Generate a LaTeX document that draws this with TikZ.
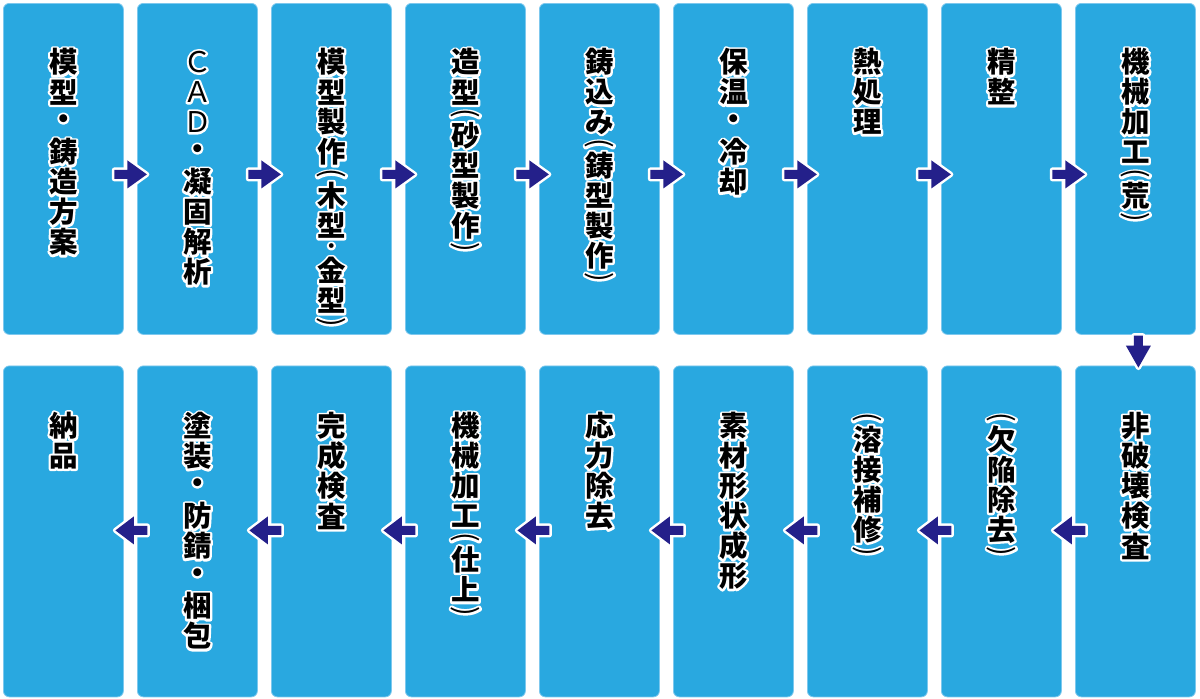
\documentclass[tikz,border=0pt]{standalone}
\usepackage{graphicx}
\usepackage{fontspec}
\newfontfamily\jp{Noto Sans CJK JP}
\usetikzlibrary{calc}
\definecolor{boxblue}{RGB}{41,168,224}
\definecolor{boxedge}{RGB}{125,200,238}
\definecolor{navy}{RGB}{36,32,138}
\newcommand\fwC{{\mdseries Ｃ}}
\newcommand\fwA{{\mdseries Ａ}}
\newcommand\fwD{{\mdseries Ｄ}}
% vertical-text brackets: the round brackets turned a quarter turn
\newcommand\lpar{{\mdseries\rotatebox{-90}{(}}}
\newcommand\rpar{{\mdseries\rotatebox{-90}{)}}}
% compact middle dot
\newcommand\sdot{{\fontsize{17}{17}\selectfont ・}}
\tikzset{
  stepbox/.style={draw=boxedge, line width=0.8pt, fill=boxblue, rounded corners=6pt,
    minimum width=120pt, minimum height=331pt, inner sep=0pt, anchor=north west},
  glyph/.style={font=\jp\bfseries\fontsize{28.5}{28.5}\selectfont, inner sep=0pt, text=black},
  arrowhalo/.style={draw=white, fill=white, line width=5pt, line join=round},
  arrowfill/.style={fill=navy},
  rarrow/.pic={
    \path[arrowhalo] (-16,-4.5) -- (-3,-4.5) -- (-3,-14) -- (16.5,0) -- (-3,14) -- (-3,4.5) -- (-16,4.5) -- cycle;
    \path[arrowfill] (-16,-4.5) -- (-3,-4.5) -- (-3,-14) -- (16.5,0) -- (-3,14) -- (-3,4.5) -- (-16,4.5) -- cycle;
  },
  larrow/.pic={
    \path[arrowhalo] (17,-4.5) -- (3.5,-4.5) -- (3.5,-14) -- (-15,0) -- (3.5,14) -- (3.5,4.5) -- (17,4.5) -- cycle;
    \path[arrowfill] (17,-4.5) -- (3.5,-4.5) -- (3.5,-14) -- (-15,0) -- (3.5,14) -- (3.5,4.5) -- (17,4.5) -- cycle;
  },
  darrow/.pic={
    \path[arrowhalo] (-4.5,-14.5) -- (-4.5,-4.5) -- (-12.5,-4.5) -- (0,17.5) -- (12.5,-4.5) -- (4.5,-4.5) -- (4.5,-14.5) -- cycle;
    \path[arrowfill] (-4.5,-14.5) -- (-4.5,-4.5) -- (-12.5,-4.5) -- (0,17.5) -- (12.5,-4.5) -- (4.5,-4.5) -- (4.5,-14.5) -- cycle;
  },
}
% white outlined glyph: stroked (text render mode 1) white copy, then the filled black glyph
\newcommand\outl[1]{\special{pdf:code q 1 Tr 4.4 w 1 j 1 1 1 RG}#1\special{pdf:code Q}}
% vertical label: #1 box node, #2 start offset below its top, #3 list char/cellheight
\newcommand\vlab[3]{%
  \xdef\vcur{#2}%
  \foreach \c/\h in {#3}{%
    \pgfmathsetmacro\vmid{\vcur+\h*15}%
    \node[glyph] at ($(#1.north)+(0,\vmid)$) {\outl{\c}};
    \node[glyph] at ($(#1.north)+(0,\vmid)$) {\c};
    \pgfmathsetmacro\vnext{\vcur+\h*30}%
    \xdef\vcur{\vnext}%
  }}
\begin{document}
\begin{tikzpicture}[x=1pt,y=-1pt]
\useasboundingbox (0,0) rectangle (1200,699);
\fill[white] (0,0) rectangle (1200,699);
% top row
\foreach \i in {1,...,9}{
  \pgfmathsetmacro\xx{3+134*(\i-1)}
  \node[stepbox] (t\i) at (\xx,3) {};
}
% bottom row (b1 at right, b9 at left)
\foreach \i in {1,...,9}{
  \pgfmathsetmacro\xx{1075-134*(\i-1)}
  \node[stepbox] (b\i) at (\xx,365.5) {};
}
% arrows
\foreach \i [evaluate=\i as \j using int(\i+1)] in {1,...,8}{
  \pic at ($($(t\i.east)!0.5!(t\j.west)$)+(0,5.5)$) {rarrow};
  \pic at ($($(b\i.west)!0.5!(b\j.east)$)+(0,-1)$) {larrow};
}
\pic at ($($(t9.south)!0.5!(b1.north)$)+(3,0)$) {darrow};
% texts
\vlab{t1}{44}{模/1,型/1,・/1,鋳/1,造/1,方/1,案/1}
\vlab{t2}{44}{\fwC/1,\fwA/1,\fwD/1,・/1,凝/1,固/1,解/1,析/1}
\vlab{t3}{44}{模/1,型/1,製/1,作/1,\lpar/0.45,木/1,型/1,\sdot/0.5,金/1,型/1,\rpar/0.45}
\vlab{t4}{44}{造/1,型/1,\lpar/0.45,砂/1,型/1,製/1,作/1,\rpar/0.45}
\vlab{t5}{44}{鋳/1,込/1,み/1,\lpar/0.45,鋳/1,型/1,製/1,作/1,\rpar/0.45}
\vlab{t6}{44}{保/1,温/1,・/1,冷/1,却/1}
\vlab{t7}{44}{熱/1,処/1,理/1}
\vlab{t8}{44}{精/1,整/1}
\vlab{t9}{44}{機/1,械/1,加/1,工/1,\lpar/0.45,荒/1,\rpar/0.45}
\vlab{b1}{45.5}{非/1,破/1,壊/1,検/1,査/1}
\vlab{b2}{45.5}{\lpar/0.45,欠/1,陥/1,除/1,去/1,\rpar/0.45}
\vlab{b3}{45.5}{\lpar/0.45,溶/1,接/1,補/1,修/1,\rpar/0.45}
\vlab{b4}{45.5}{素/1,材/1,形/1,状/1,成/1,形/1}
\vlab{b5}{45.5}{応/1,力/1,除/1,去/1}
\vlab{b6}{45.5}{機/1,械/1,加/1,工/1,\lpar/0.45,仕/1,上/1,\rpar/0.45}
\vlab{b7}{45.5}{完/1,成/1,検/1,査/1}
\vlab{b8}{45.5}{塗/1,装/1,・/1,防/1,錆/1,・/1,梱/1,包/1}
\vlab{b9}{45.5}{納/1,品/1}
\end{tikzpicture}
\end{document}
